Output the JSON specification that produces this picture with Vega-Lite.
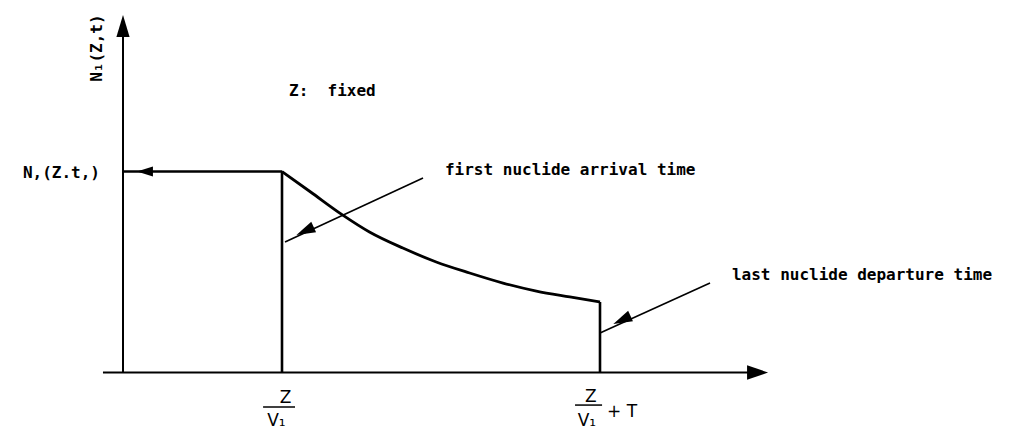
{
  "$schema": "https://vega.github.io/schema/vega-lite/v6.json",
  "width": 1024,
  "height": 436,
  "padding": 0,
  "autosize": {"type": "fit", "contains": "padding"},
  "background": "white",
  "config": {"view": {"stroke": null}},
  "datasets": {
    "segments": [
      {"kind": "axis", "seg": "yaxis", "order": 0, "t": 0, "n": 0},
      {"kind": "axis", "seg": "yaxis", "order": 1, "t": 0, "n": 1.75},
      {"kind": "axis", "seg": "xaxis", "order": 0, "t": -0.126, "n": 0},
      {"kind": "axis", "seg": "xaxis", "order": 1, "t": 3.98, "n": 0},
      {"kind": "profile", "seg": "plateau", "order": 0, "t": 0, "n": 1},
      {"kind": "profile", "seg": "plateau", "order": 1, "t": 1, "n": 1},
      {"kind": "profile", "seg": "front", "order": 0, "t": 1, "n": 1},
      {"kind": "profile", "seg": "front", "order": 1, "t": 1, "n": 0},
      {"kind": "decay", "seg": "decay", "order": 0, "t": 1.0, "n": 1.0},
      {"kind": "decay", "seg": "decay", "order": 1, "t": 1.18, "n": 0.898},
      {"kind": "decay", "seg": "decay", "order": 2, "t": 1.38, "n": 0.784},
      {"kind": "decay", "seg": "decay", "order": 3, "t": 1.55, "n": 0.699},
      {"kind": "decay", "seg": "decay", "order": 4, "t": 1.76, "n": 0.619},
      {"kind": "decay", "seg": "decay", "order": 5, "t": 1.97, "n": 0.55},
      {"kind": "decay", "seg": "decay", "order": 6, "t": 2.18, "n": 0.495},
      {"kind": "decay", "seg": "decay", "order": 7, "t": 2.39, "n": 0.445},
      {"kind": "decay", "seg": "decay", "order": 8, "t": 2.6, "n": 0.405},
      {"kind": "decay", "seg": "decay", "order": 9, "t": 2.81, "n": 0.376},
      {"kind": "decay", "seg": "decay", "order": 10, "t": 3.0, "n": 0.351},
      {"kind": "profile", "seg": "back", "order": 0, "t": 3.0, "n": 0.351},
      {"kind": "profile", "seg": "back", "order": 1, "t": 3.0, "n": 0},
      {"kind": "pointer", "seg": "arrival", "order": 0, "t": 1.887, "n": 0.968},
      {"kind": "pointer", "seg": "arrival", "order": 1, "t": 1.019, "n": 0.649},
      {"kind": "pointer", "seg": "departure", "order": 0, "t": 3.692, "n": 0.445},
      {"kind": "pointer", "seg": "departure", "order": 1, "t": 3.0, "n": 0.197},
      {"kind": "fraction", "seg": "bar1", "order": 0, "t": 0.881, "n": -0.172},
      {"kind": "fraction", "seg": "bar1", "order": 1, "t": 1.082, "n": -0.172},
      {"kind": "fraction", "seg": "bar2", "order": 0, "t": 2.843, "n": -0.162},
      {"kind": "fraction", "seg": "bar2", "order": 1, "t": 3.013, "n": -0.162}
    ],
    "heads": [
      {"dir": "up", "t": 0, "n": 1.724},
      {"dir": "right", "t": 3.991, "n": 0},
      {"dir": "left", "t": 0.138, "n": 1},
      {"dir": "pointer", "t": 1.145, "n": 0.704},
      {"dir": "pointer", "t": 3.138, "n": 0.261}
    ],
    "labels": [
      {"role": "note", "label": "Z:\u00a0\u00a0fixed", "t": 1.044, "n": 1.376},
      {"role": "note", "label": "first nuclide arrival time", "t": 2.025, "n": 0.983},
      {"role": "note", "label": "last nuclide departure time", "t": 3.83, "n": 0.46},
      {"role": "level", "label": "N,(Z.t,)", "t": -0.145, "n": 0.969},
      {"role": "ytitle", "label": "N₁(Z,t)", "t": -0.135, "n": 1.614},
      {"role": "tick", "label": "Z", "t": 1.022, "n": -0.152},
      {"role": "tick", "label": "V₁", "t": 0.965, "n": -0.266},
      {"role": "tick", "label": "Z", "t": 2.943, "n": -0.147},
      {"role": "tick", "label": "V₁", "t": 2.918, "n": -0.266},
      {"role": "plus", "label": "+ T", "t": 3.044, "n": -0.221}
    ]
  },
  "encoding": {
    "x": {"field": "t", "type": "quantitative", "scale": {"domain": [-0.7736, 5.6667], "nice": false, "zero": false}, "axis": null},
    "y": {"field": "n", "type": "quantitative", "scale": {"domain": [-0.3159, 1.8532], "nice": false, "zero": false}, "axis": null}
  },
  "layer": [
    {
      "data": {"name": "segments"},
      "transform": [{"filter": "datum.kind == 'axis'"}],
      "mark": {"type": "line", "color": "#000", "strokeWidth": 2},
      "encoding": {"detail": {"field": "seg"}, "order": {"field": "order"}}
    },
    {
      "data": {"name": "segments"},
      "transform": [{"filter": "datum.kind == 'profile'"}],
      "mark": {"type": "line", "color": "#000", "strokeWidth": 2.6, "strokeJoin": "miter"},
      "encoding": {"detail": {"field": "seg"}, "order": {"field": "order"}}
    },
    {
      "data": {"name": "segments"},
      "transform": [{"filter": "datum.kind == 'decay'"}],
      "mark": {"type": "line", "color": "#000", "strokeWidth": 2.8, "interpolate": "monotone"},
      "encoding": {"order": {"field": "order"}}
    },
    {
      "data": {"name": "segments"},
      "transform": [{"filter": "datum.kind == 'pointer'"}],
      "mark": {"type": "line", "color": "#000", "strokeWidth": 1.6},
      "encoding": {"detail": {"field": "seg"}, "order": {"field": "order"}}
    },
    {
      "data": {"name": "segments"},
      "transform": [{"filter": "datum.kind == 'fraction'"}],
      "mark": {"type": "line", "color": "#000", "strokeWidth": 1.5},
      "encoding": {"detail": {"field": "seg"}, "order": {"field": "order"}}
    },
    {
      "data": {"name": "heads"},
      "transform": [{"filter": "datum.dir == 'up'"}],
      "mark": {"type": "point", "shape": "M0,-1L0.6,1L-0.6,1Z", "size": 484, "filled": true, "color": "#000", "opacity": 1, "angle": 0}
    },
    {
      "data": {"name": "heads"},
      "transform": [{"filter": "datum.dir == 'right'"}],
      "mark": {"type": "point", "shape": "M0,-1L0.7,1L-0.7,1Z", "size": 441, "filled": true, "color": "#000", "opacity": 1, "angle": 90}
    },
    {
      "data": {"name": "heads"},
      "transform": [{"filter": "datum.dir == 'left'"}],
      "mark": {"type": "point", "shape": "M0,-1L0.62,1L-0.62,1Z", "size": 256, "filled": true, "color": "#000", "opacity": 1, "angle": 270}
    },
    {
      "data": {"name": "heads"},
      "transform": [{"filter": "datum.dir == 'pointer'"}],
      "mark": {"type": "point", "shape": "M0,-1L0.6,1L-0.6,1Z", "size": 361, "filled": true, "color": "#000", "opacity": 1, "angle": 245}
    },
    {
      "data": {"name": "labels"},
      "transform": [{"filter": "datum.role == 'note'"}],
      "mark": {"type": "text", "font": "DejaVu Sans Mono", "fontWeight": "bold", "fontSize": 16, "align": "left", "baseline": "alphabetic", "color": "#000"},
      "encoding": {"text": {"field": "label"}}
    },
    {
      "data": {"name": "labels"},
      "transform": [{"filter": "datum.role == 'level'"}],
      "mark": {"type": "text", "font": "DejaVu Sans Mono", "fontWeight": "bold", "fontSize": 16, "align": "right", "baseline": "alphabetic", "color": "#000"},
      "encoding": {"text": {"field": "label"}}
    },
    {
      "data": {"name": "labels"},
      "transform": [{"filter": "datum.role == 'ytitle'"}],
      "mark": {"type": "text", "font": "DejaVu Sans Mono", "fontWeight": "bold", "fontSize": 16, "align": "center", "baseline": "alphabetic", "angle": 270, "color": "#000"},
      "encoding": {"text": {"field": "label"}}
    },
    {
      "data": {"name": "labels"},
      "transform": [{"filter": "datum.role == 'tick'"}],
      "mark": {"type": "text", "font": "DejaVu Sans", "fontSize": 17, "align": "center", "baseline": "alphabetic", "color": "#000"},
      "encoding": {"text": {"field": "label"}}
    },
    {
      "data": {"name": "labels"},
      "transform": [{"filter": "datum.role == 'plus'"}],
      "mark": {"type": "text", "font": "DejaVu Sans", "fontSize": 17, "align": "left", "baseline": "alphabetic", "color": "#000"},
      "encoding": {"text": {"field": "label"}}
    }
  ]
}
